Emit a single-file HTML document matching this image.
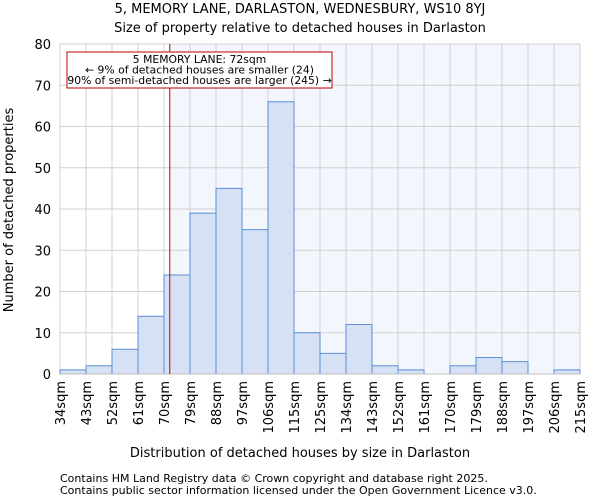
<!DOCTYPE html>
<html><head><meta charset="utf-8"><style>body{margin:0;background:#fff}svg{display:block;font-family:"DejaVu Sans","Liberation Sans",sans-serif}</style></head>
<body>
<svg id="c" width="600" height="500">
<text x="300" y="13" text-anchor="middle" font-size="13">5, MEMORY LANE, DARLASTON, WEDNESBURY, WS10 8YJ</text>
<text x="300" y="32" text-anchor="middle" font-size="13">Size of property relative to detached houses in Darlaston</text>
<g id="plot"></g>
<text x="300" y="457" text-anchor="middle" font-size="13">Distribution of detached houses by size in Darlaston</text>
<text transform="translate(13,210) rotate(-90)" text-anchor="middle" font-size="13">Number of detached properties</text>
<text x="60" y="482" font-size="11">Contains HM Land Registry data © Crown copyright and database right 2025.</text>
<text x="60" y="494" font-size="11">Contains public sector information licensed under the Open Government Licence v3.0.</text>
</svg>
<script>
const categories=["34sqm","43sqm","52sqm","61sqm","70sqm","79sqm","88sqm","97sqm","106sqm","115sqm","125sqm","134sqm","143sqm","152sqm","161sqm","170sqm","179sqm","188sqm","197sqm","206sqm","215sqm"];
const counts=[1,2,6,14,24,39,45,35,66,10,5,12,2,1,0,2,4,3,0,1];
const yTicks=[0,10,20,30,40,50,60,70,80];
const binStart=34, binWidth=9, propertySize=72;
const L=60,R=580,T=44,B=374,ymax=80;
const n=counts.length;
const xs=i=>L+(R-L)*i/n;
const xv=v=>L+(R-L)*(v-binStart)/(binWidth*n);
const ys=v=>B-(B-T)*v/ymax;
const NS="http://www.w3.org/2000/svg";
const g=document.getElementById('plot');
function el(t,a){const e=document.createElementNS(NS,t);for(const k in a)e.setAttribute(k,a[k]);g.appendChild(e);return e;}
const px=xv(propertySize);
let sh=el('rect',{x:px,y:T,width:R-px,height:B-T,fill:'#f3f6fd'});


for(let i=0;i<=n;i++){let l=el('line',{x1:xs(i),x2:xs(i),y1:T,y2:B,stroke:'#d0d0d0','stroke-width':1});

}
yTicks.forEach(v=>{let l=el('line',{x1:L,x2:R,y1:ys(v),y2:ys(v),stroke:'#d0d0d0','stroke-width':1});


let t=el('text',{x:L-9,y:ys(v)+5,'text-anchor':'end','font-size':13});t.textContent=v;

});
counts.forEach((c,i)=>{if(c<=0)return;let r=el('rect',{x:xs(i),y:ys(c),width:xs(i+1)-xs(i),height:B-ys(c),fill:'#d6e1f3',stroke:'#5a8fd8','stroke-width':1});

});
categories.forEach((c,i)=>{let t=el('text',{transform:`translate(${xs(i)+5},381) rotate(-90)`,'text-anchor':'end','font-size':13});t.textContent=c;

});
let ax=el('line',{x1:L,x2:R,y1:B,y2:B,stroke:'#c0c0c0'});


let ml=el('line',{x1:px,x2:px,y1:T,y2:B,stroke:'#c00000','stroke-width':1});


let bx=el('rect',{x:67,y:52,width:265,height:36,fill:'#fff',stroke:'#c00000','stroke-width':1});


["5 MEMORY LANE: 72sqm","← 9% of detached houses are smaller (24)","90% of semi-detached houses are larger (245) →"].forEach((s,i)=>{let t=el('text',{x:199.5,y:63+i*10.5,'text-anchor':'middle','font-size':10.8});t.textContent=s;

});
</script>
</body></html>
